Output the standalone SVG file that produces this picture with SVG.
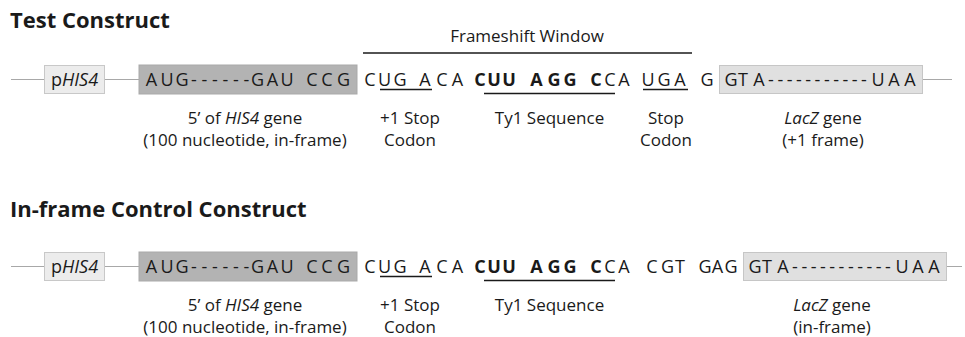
<svg xmlns="http://www.w3.org/2000/svg" width="965" height="337" viewBox="0 0 965 337">
  <style>
    text { font-family: "Open Sans", "Noto Sans", sans-serif; fill: #1a1a1a; }
    .title { font-size: 22px; font-weight: bold; }
    .lbl { font-size: 17px; text-anchor: middle; }
    .seq { font-size: 18px; text-anchor: middle; }
    .b { font-weight: bold; }
    .it { font-style: italic; }
    .wire { stroke: #a8a8a8; stroke-width: 1; fill: none; }
    .ul { stroke: #1a1a1a; stroke-width: 1.3; }
    .prom { fill: #ececec; stroke: #c8c8c8; stroke-width: 1; }
    .his { fill: #b3b3b3; stroke: #a9a9a9; stroke-width: 1; }
    .lacz { fill: #e0e0e0; stroke: #c6c6c6; stroke-width: 1; }
  </style>

  <!-- ===== Test construct ===== -->
  <text class="title" x="10" y="28">Test Construct</text>

  <g id="connectors-test">
    <line class="wire" x1="11" y1="79.5" x2="44" y2="79.5"/>
    <line class="wire" x1="105" y1="79.5" x2="139" y2="79.5"/>
    <line class="wire" x1="923" y1="79.5" x2="952" y2="79.5"/>
    <line class="ul" x1="363" y1="53" x2="692" y2="53"/>
  </g>

  <g id="window-label">
    <text class="lbl" x="527" y="42">Frameshift Window</text>
  </g>

  <g id="test-promoter">
    <rect class="prom" x="44.5" y="65.5" width="60" height="28"/>
    <text class="seq" x="74.5" y="85.5">p<tspan class="it">HIS4</tspan></text>
  </g>

  <g id="test-his4">
    <rect class="his" x="139" y="65" width="218" height="29"/>
    <text class="seq" x="151.5 167 182 194 204.5 215 225.5 236 246.5 257.5 272.5 287 312 327 343.5" y="85.5">AUG------GAUCCG</text>
    <text class="lbl" x="245" y="124">5’ of <tspan class="it">HIS4</tspan> gene</text>
    <text class="lbl" x="245" y="146">(100 nucleotide, in-frame)</text>
  </g>

  <g id="test-stop1">
    <text class="seq" x="370 384.5 400 425 442 457.5" y="85.5">CUGACA</text>
    <line class="ul" x1="380" y1="89.5" x2="432" y2="89.5"/>
    <text class="lbl" x="410" y="124">+1 Stop</text>
    <text class="lbl" x="410" y="146">Codon</text>
  </g>

  <g id="test-ty1">
    <text class="seq" y="85.5"><tspan class="b" x="480 494 509 536.5 554 570 596">CUUAGGC</tspan><tspan x="610 624">CA</tspan></text>
    <line class="ul" x1="484" y1="93.5" x2="615" y2="93.5"/>
    <text class="lbl" x="549.5" y="124">Ty1 Sequence</text>
  </g>

  <g id="test-stop2">
    <text class="seq" x="648 664 680 707" y="85.5">UGAG</text>
    <line class="ul" x1="643" y1="89.5" x2="688" y2="89.5"/>
    <text class="lbl" x="666" y="124">Stop</text>
    <text class="lbl" x="666" y="146">Codon</text>
  </g>

  <g id="test-lacz">
    <rect class="lacz" x="719.5" y="65.5" width="203" height="28"/>
    <text class="seq" x="731 743 759 771 780.3 789.6 798.9 808.2 817.5 826.8 836.1 845.4 854.7 864 878 894 910" y="85.5">GTA-----------UAA</text>
    <text class="lbl" x="823" y="124"><tspan class="it">LacZ</tspan> gene</text>
    <text class="lbl" x="823" y="146">(+1 frame)</text>
  </g>

  <!-- ===== In-frame control construct ===== -->
  <text class="title" x="10" y="217">In-frame Control Construct</text>

  <g id="connectors-control">
    <line class="wire" x1="11" y1="266.5" x2="44" y2="266.5"/>
    <line class="wire" x1="105" y1="266.5" x2="139" y2="266.5"/>
    <line class="wire" x1="947" y1="266.5" x2="962" y2="266.5"/>
  </g>

  <g id="control-promoter">
    <rect class="prom" x="44.5" y="252.5" width="60" height="28"/>
    <text class="seq" x="74.5" y="272.5">p<tspan class="it">HIS4</tspan></text>
  </g>

  <g id="control-his4">
    <rect class="his" x="139" y="252" width="218" height="29"/>
    <text class="seq" x="151.5 167 182 194 204.5 215 225.5 236 246.5 257.5 272.5 287 312 327 343.5" y="272.5">AUG------GAUCCG</text>
    <text class="lbl" x="245" y="311">5’ of <tspan class="it">HIS4</tspan> gene</text>
    <text class="lbl" x="245" y="333">(100 nucleotide, in-frame)</text>
  </g>

  <g id="control-stop1">
    <text class="seq" x="370 384.5 400 425 442 457.5" y="272.5">CUGACA</text>
    <line class="ul" x1="380" y1="276.5" x2="432" y2="276.5"/>
    <text class="lbl" x="410" y="311">+1 Stop</text>
    <text class="lbl" x="410" y="333">Codon</text>
  </g>

  <g id="control-ty1">
    <text class="seq" y="272.5"><tspan class="b" x="480 494 509 536.5 554 570 596">CUUAGGC</tspan><tspan x="610 624">CA</tspan></text>
    <line class="ul" x1="484" y1="280.5" x2="615" y2="280.5"/>
    <text class="lbl" x="549.5" y="311">Ty1 Sequence</text>
  </g>

  <g id="control-linker">
    <text class="seq" x="652 667.5 680 705 717.5 731" y="272.5">CGTGAG</text>
  </g>

  <g id="control-lacz">
    <rect class="lacz" x="743.5" y="252.5" width="203" height="28"/>
    <text class="seq" x="755 767 783 795 804.3 813.6 822.9 832.2 841.5 850.8 860.1 869.4 878.7 888 902 918 934" y="272.5">GTA-----------UAA</text>
    <text class="lbl" x="832" y="311"><tspan class="it">LacZ</tspan> gene</text>
    <text class="lbl" x="832" y="333">(in-frame)</text>
  </g>
</svg>
